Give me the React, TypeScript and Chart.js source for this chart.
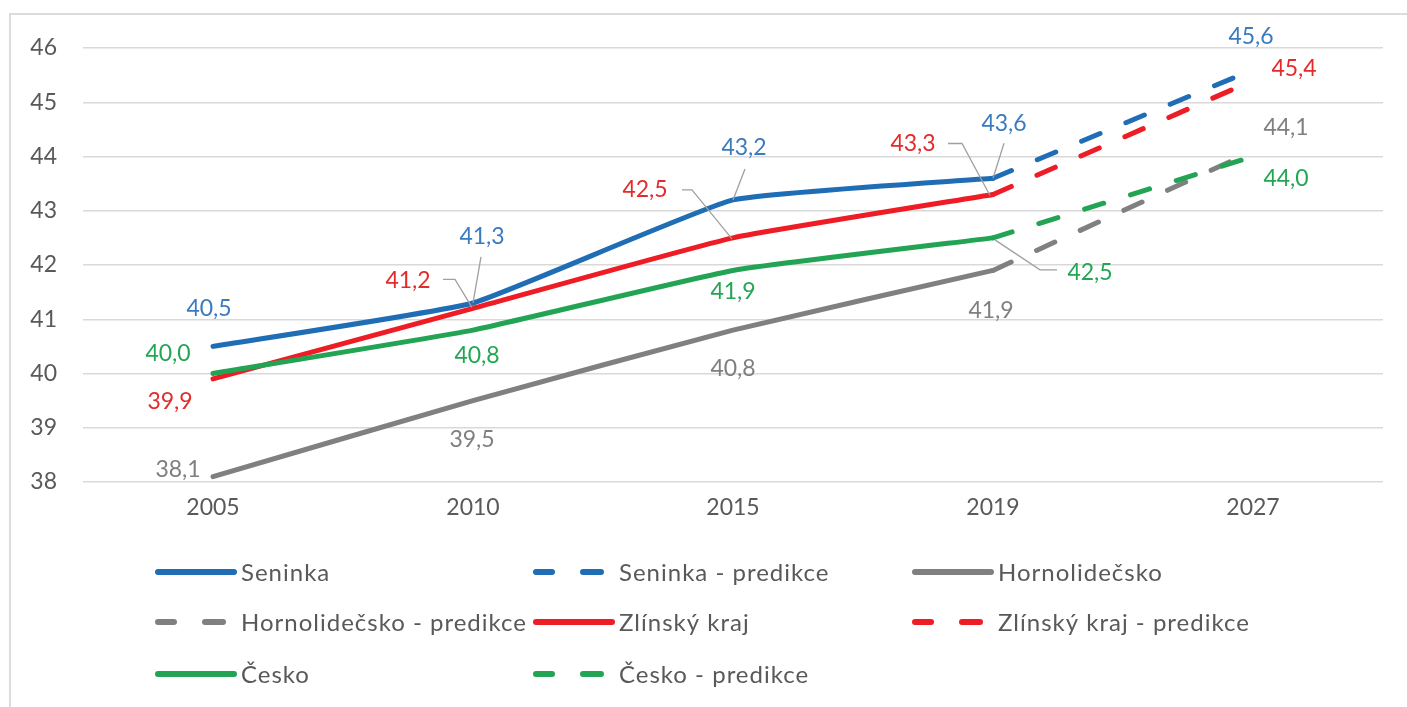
import React, { useEffect, useRef } from "react";
import { Chart, registerables } from "chart.js";

Chart.register(...registerables);

// ---------- data ----------
const years = ["2005", "2010", "2015", "2019", "2027"];
const seninka = [40.5, 41.3, 43.2, 43.6, null];
const seninkaPred = [null, null, null, 43.6, 45.6];
const hornolidecsko = [38.1, 39.5, 40.8, 41.9, null];
const hornolidecskoPred = [null, null, null, 41.9, 44.1];
const zlinsky = [39.9, 41.2, 42.5, 43.3, null];
const zlinskyPred = [null, null, null, 43.3, 45.4];
const cesko = [40.0, 40.8, 41.9, 42.5, null];
const ceskoPred = [null, null, null, 42.5, 44.0];
const yMin = 38;
const yMax = 46;
const yStep = 1;

// ---------- styles ----------
const FONT = "Lato, 'Open Sans', sans-serif";
const BLUE = "#1f6db5";
const GRAY = "#808080";
const RED = "#ee1c25";
const GREEN = "#22a454";
const BLUE_T = "#3a7bbf";
const GRAY_T = "#7f7f7f";
const RED_T = "#e32b2b";
const GREEN_T = "#22a654";
const AXIS_T = "#595959";
const DASH = [20, 28];

type Spec = { i: number; dx: number; dy: number; leader?: [number, number][] };

// label placement offsets (relative to the point), by dataset index
const labelSpecs: Record<number, Spec[]> = {
  0: [
    { i: 0, dx: -4, dy: -38 },
    { i: 1, dx: 9, dy: -66, leader: [[8, -46], [0, 0]] },
    { i: 2, dx: 11, dy: -52, leader: [[12, -31], [0, 0]] },
    { i: 3, dx: 11, dy: -55, leader: [[11, -35], [0, 0]] },
  ],
  1: [{ i: 4, dx: -2, dy: -33 }],
  2: [
    { i: 0, dx: -35, dy: -7 },
    { i: 1, dx: -1, dy: 39 },
    { i: 2, dx: 0, dy: 38 },
    { i: 3, dx: -2, dy: 40 },
  ],
  3: [{ i: 4, dx: 33, dy: -23 }],
  4: [
    { i: 0, dx: -43, dy: 23 },
    { i: 1, dx: -65, dy: -28, leader: [[-30, -29], [-18, -29], [-1, -1]] },
    { i: 2, dx: -88, dy: -48, leader: [[-51, -48], [-41, -48], [-1, 1]] },
    { i: 3, dx: -80, dy: -51, leader: [[-45, -51], [-31, -51], [-3, 1]] },
  ],
  5: [{ i: 4, dx: 41, dy: -12 }],
  6: [
    { i: 0, dx: -45, dy: -20 },
    { i: 1, dx: 4, dy: 25 },
    { i: 2, dx: 0, dy: 21 },
    { i: 3, dx: 97, dy: 35, leader: [[2, 2], [47, 32], [64, 32]] },
  ],
  7: [{ i: 4, dx: 33, dy: 22 }],
};
const labelColors = [BLUE_T, BLUE_T, GRAY_T, GRAY_T, RED_T, RED_T, GREEN_T, GREEN_T];

// legend grid
const legendCols = [155, 533, 912];
const legendRows = [572, 622, 674];

const fmt = (v: number) => v.toFixed(1).replace(".", ",");

const dataLabelsPlugin = {
  id: "dataLabelsCustom",
  afterDatasetsDraw(chart: any) {
    const ctx = chart.ctx;
    ctx.save();
    ctx.font = `23px ${FONT}`;
    ctx.textAlign = "center";
    ctx.textBaseline = "middle";
    Object.keys(labelSpecs).forEach((k) => {
      const di = Number(k);
      const meta = chart.getDatasetMeta(di);
      const ds = chart.data.datasets[di];
      labelSpecs[di].forEach((s) => {
        const v = ds.data[s.i];
        if (v == null) return;
        const el = meta.data[s.i];
        const px = el.x;
        const py = el.y;
        if (s.leader) {
          ctx.strokeStyle = "#a0a0a0";
          ctx.lineWidth = 1.3;
          ctx.beginPath();
          s.leader.forEach(([lx, ly], j) => {
            if (j === 0) ctx.moveTo(px + lx, py + ly);
            else ctx.lineTo(px + lx, py + ly);
          });
          ctx.stroke();
        }
        ctx.fillStyle = labelColors[di];
        ctx.fillText(fmt(v as number), px + s.dx, py + s.dy);
      });
    });
    ctx.restore();
  },
};

const legendPlugin = {
  id: "legendCustom",
  afterDraw(chart: any) {
    const ctx = chart.ctx;
    ctx.save();
    ctx.font = `24px ${FONT}`;
    try {
      (ctx as any).letterSpacing = "1px";
    } catch (e) {}
    ctx.textBaseline = "middle";
    ctx.textAlign = "left";
    chart.data.datasets.forEach((ds: any, idx: number) => {
      const col = idx % 3;
      const row = Math.floor(idx / 3);
      const x = legendCols[col];
      const y = legendRows[row];
      ctx.strokeStyle = ds.borderColor;
      ctx.lineWidth = 6;
      ctx.lineCap = "round";
      ctx.beginPath();
      if (ds.borderDash && ds.borderDash.length) {
        ctx.moveTo(x + 3, y);
        ctx.lineTo(x + 19, y);
        ctx.moveTo(x + 50, y);
        ctx.lineTo(x + 68, y);
      } else {
        ctx.moveTo(x + 3, y);
        ctx.lineTo(x + 79, y);
      }
      ctx.stroke();
      ctx.fillStyle = AXIS_T;
      ctx.fillText(ds.label, x + 86, y + 1);
    });
    ctx.restore();
  },
};

export default function App() {
  const ref = useRef<HTMLCanvasElement | null>(null);

  useEffect(() => {
    if (!ref.current) return;
    const mk = (label: string, data: (number | null)[], color: string, dashed: boolean, order: number) => ({
      label,
      data,
      borderColor: color,
      backgroundColor: color,
      borderWidth: 5,
      borderDash: dashed ? DASH : [],
      borderCapStyle: "round",
      borderJoinStyle: "round",
      pointRadius: 0,
      pointHoverRadius: 0,
      tension: dashed ? 0 : 0.12,
      fill: false,
      spanGaps: false,
      order,
    });
    const chart = new Chart(ref.current, {
      type: "line",
      data: {
        labels: years,
        datasets: [
          mk("Seninka", seninka, BLUE, false, 8),
          mk("Seninka - predikce", seninkaPred, BLUE, true, 7),
          mk("Hornolidečsko", hornolidecsko, GRAY, false, 6),
          mk("Hornolidečsko - predikce", hornolidecskoPred, GRAY, true, 5),
          mk("Zlínský kraj", zlinsky, RED, false, 4),
          mk("Zlínský kraj - predikce", zlinskyPred, RED, true, 3),
          mk("Česko", cesko, GREEN, false, 2),
          mk("Česko - predikce", ceskoPred, GREEN, true, 1),
        ] as any,
      },
      options: {
        responsive: false,
        animation: false,
        layout: { padding: { left: 20, right: 24, top: 48, bottom: 185 } },
        plugins: {
          legend: { display: false },
          tooltip: { enabled: false },
        },
        scales: {
          x: {
            type: "category",
            offset: true,
            grid: { display: false, drawTicks: false },
            border: { display: false },
            ticks: { color: AXIS_T, font: { size: 23, family: FONT }, padding: 12, maxRotation: 0 },
            afterFit: (s: any) => {
              s.height = 40;
            },
          },
          y: {
            min: yMin,
            max: yMax,
            grid: { color: "#d9d9d9", lineWidth: 1.5, drawTicks: false },
            border: { display: false },
            ticks: { stepSize: yStep, color: AXIS_T, font: { size: 23, family: FONT }, padding: 26 },
            afterFit: (s: any) => {
              s.width = 63;
            },
          },
        },
      } as any,
      plugins: [dataLabelsPlugin, legendPlugin],
    });
    return () => chart.destroy();
  }, []);

  return (
    <div style={{ position: "fixed", left: 0, top: 0, width: 1407, height: 707, background: "#fff", overflow: "hidden" }}>
      <div
        style={{
          position: "absolute",
          left: 9,
          top: 13,
          width: 1500,
          height: 800,
          borderLeft: "2px solid #dcdcdc",
          borderTop: "2px solid #dcdcdc",
        }}
      />
      <canvas ref={ref} width={1407} height={707} style={{ position: "absolute", left: 0, top: 0, width: 1407, height: 707 }} />
    </div>
  );
}
